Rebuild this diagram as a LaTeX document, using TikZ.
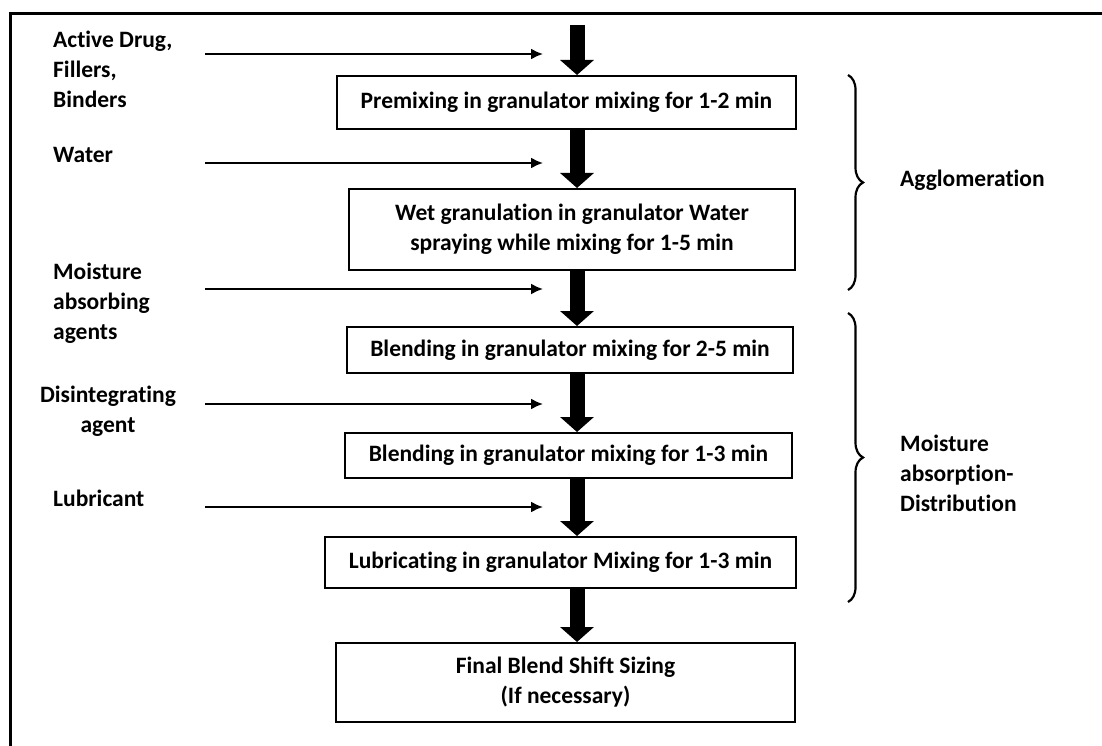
\documentclass[tikz,border=0pt]{standalone}
\usepackage{fontspec}
\setmainfont[Ligatures=NoCommon]{Carlito}
\usetikzlibrary{arrows.meta,decorations.pathreplacing}

\begin{document}
\begin{tikzpicture}[x=1pt, y=-1pt,
  every node/.style={font=\fontsize{23.5}{30}\selectfont\bfseries, inner sep=0pt},
  stage/.style={draw, line width=2pt, align=center},
  feed/.style={-{Latex[length=12pt,width=11pt]}, line width=2pt},
  fat/.style={-{Triangle[length=15pt,width=33pt]}, line width=15pt},
  grp/.style={decorate, decoration={brace,amplitude=15pt}, line width=2.2pt}]
\useasboundingbox (0,0) rectangle (1102,746);
\draw [line width=3pt] (1102,14) -- (10,14) -- (10,746);
% process boxes
\node [stage, minimum width=459pt, minimum height=53pt] (premix) at (566.5,102.5) {Premixing in granulator mixing for 1-2 min};
\node [stage, minimum width=446pt, minimum height=81pt] (wetgran) at (572,229.5) {Wet granulation in granulator Water\\spraying while mixing for 1-5 min};
\node [stage, minimum width=446pt, minimum height=46pt] (blendA) at (570,350) {Blending in granulator mixing for 2-5 min};
\node [stage, minimum width=447pt, minimum height=45pt] (blendB) at (568.5,455.5) {Blending in granulator mixing for 1-3 min};
\node [stage, minimum width=471pt, minimum height=51pt] (lubmix) at (560.5,562.5) {Lubricating in granulator Mixing for 1-3 min};
\node [stage, minimum width=459pt, minimum height=79pt] (final) at (565.5,682.5) {Final Blend Shift Sizing\\(If necessary)};
% ingredients
\node [anchor=west, align=left] (drug) at (53,69) {Active Drug,\\Fillers,\\Binders};
\node [anchor=west] (water) at (53,155) {Water};
\node [anchor=west, align=left] (absorb) at (53,303) {Moisture\\absorbing\\agents};
\node [align=center] (disint) at (108,411.5) {Disintegrating\\agent};
\node [anchor=west] (lubric) at (53,498) {Lubricant};
% phases
\node [anchor=west] (agglo) at (900,180) {Agglomeration};
\node [anchor=west, align=left] (distrib) at (900,473) {Moisture\\absorption-\\Distribution};
% main flow
\coordinate (col) at (577,0);
\coordinate (top) at (577,25);
\draw [fat] (top) -- (premix.north -| col);
\draw [fat] (premix.south -| col) -- (wetgran.north -| col);
\draw [fat] (wetgran.south -| col) -- (blendA.north -| col);
\draw [fat] (blendA.south -| col) -- (blendB.north -| col);
\draw [fat] (blendB.south -| col) -- (lubmix.north -| col);
\draw [fat] (lubmix.south -| col) -- (final.north -| col);
% feed lines
\coordinate (f1) at (205,54);  \coordinate (g1) at (543,54);
\coordinate (f2) at (205,163); \coordinate (g2) at (543,163);
\coordinate (f3) at (205,289); \coordinate (g3) at (543,289);
\coordinate (f4) at (205,404); \coordinate (g4) at (543,404);
\coordinate (f5) at (205,507); \coordinate (g5) at (543,507);
\foreach \i in {1,...,5}
  \draw [feed] (f\i) -- (g\i);
% braces
\draw [grp] (848,75) -- (848,290);
\draw [grp] (848,313) -- (848,602);
\end{tikzpicture}
\end{document}
